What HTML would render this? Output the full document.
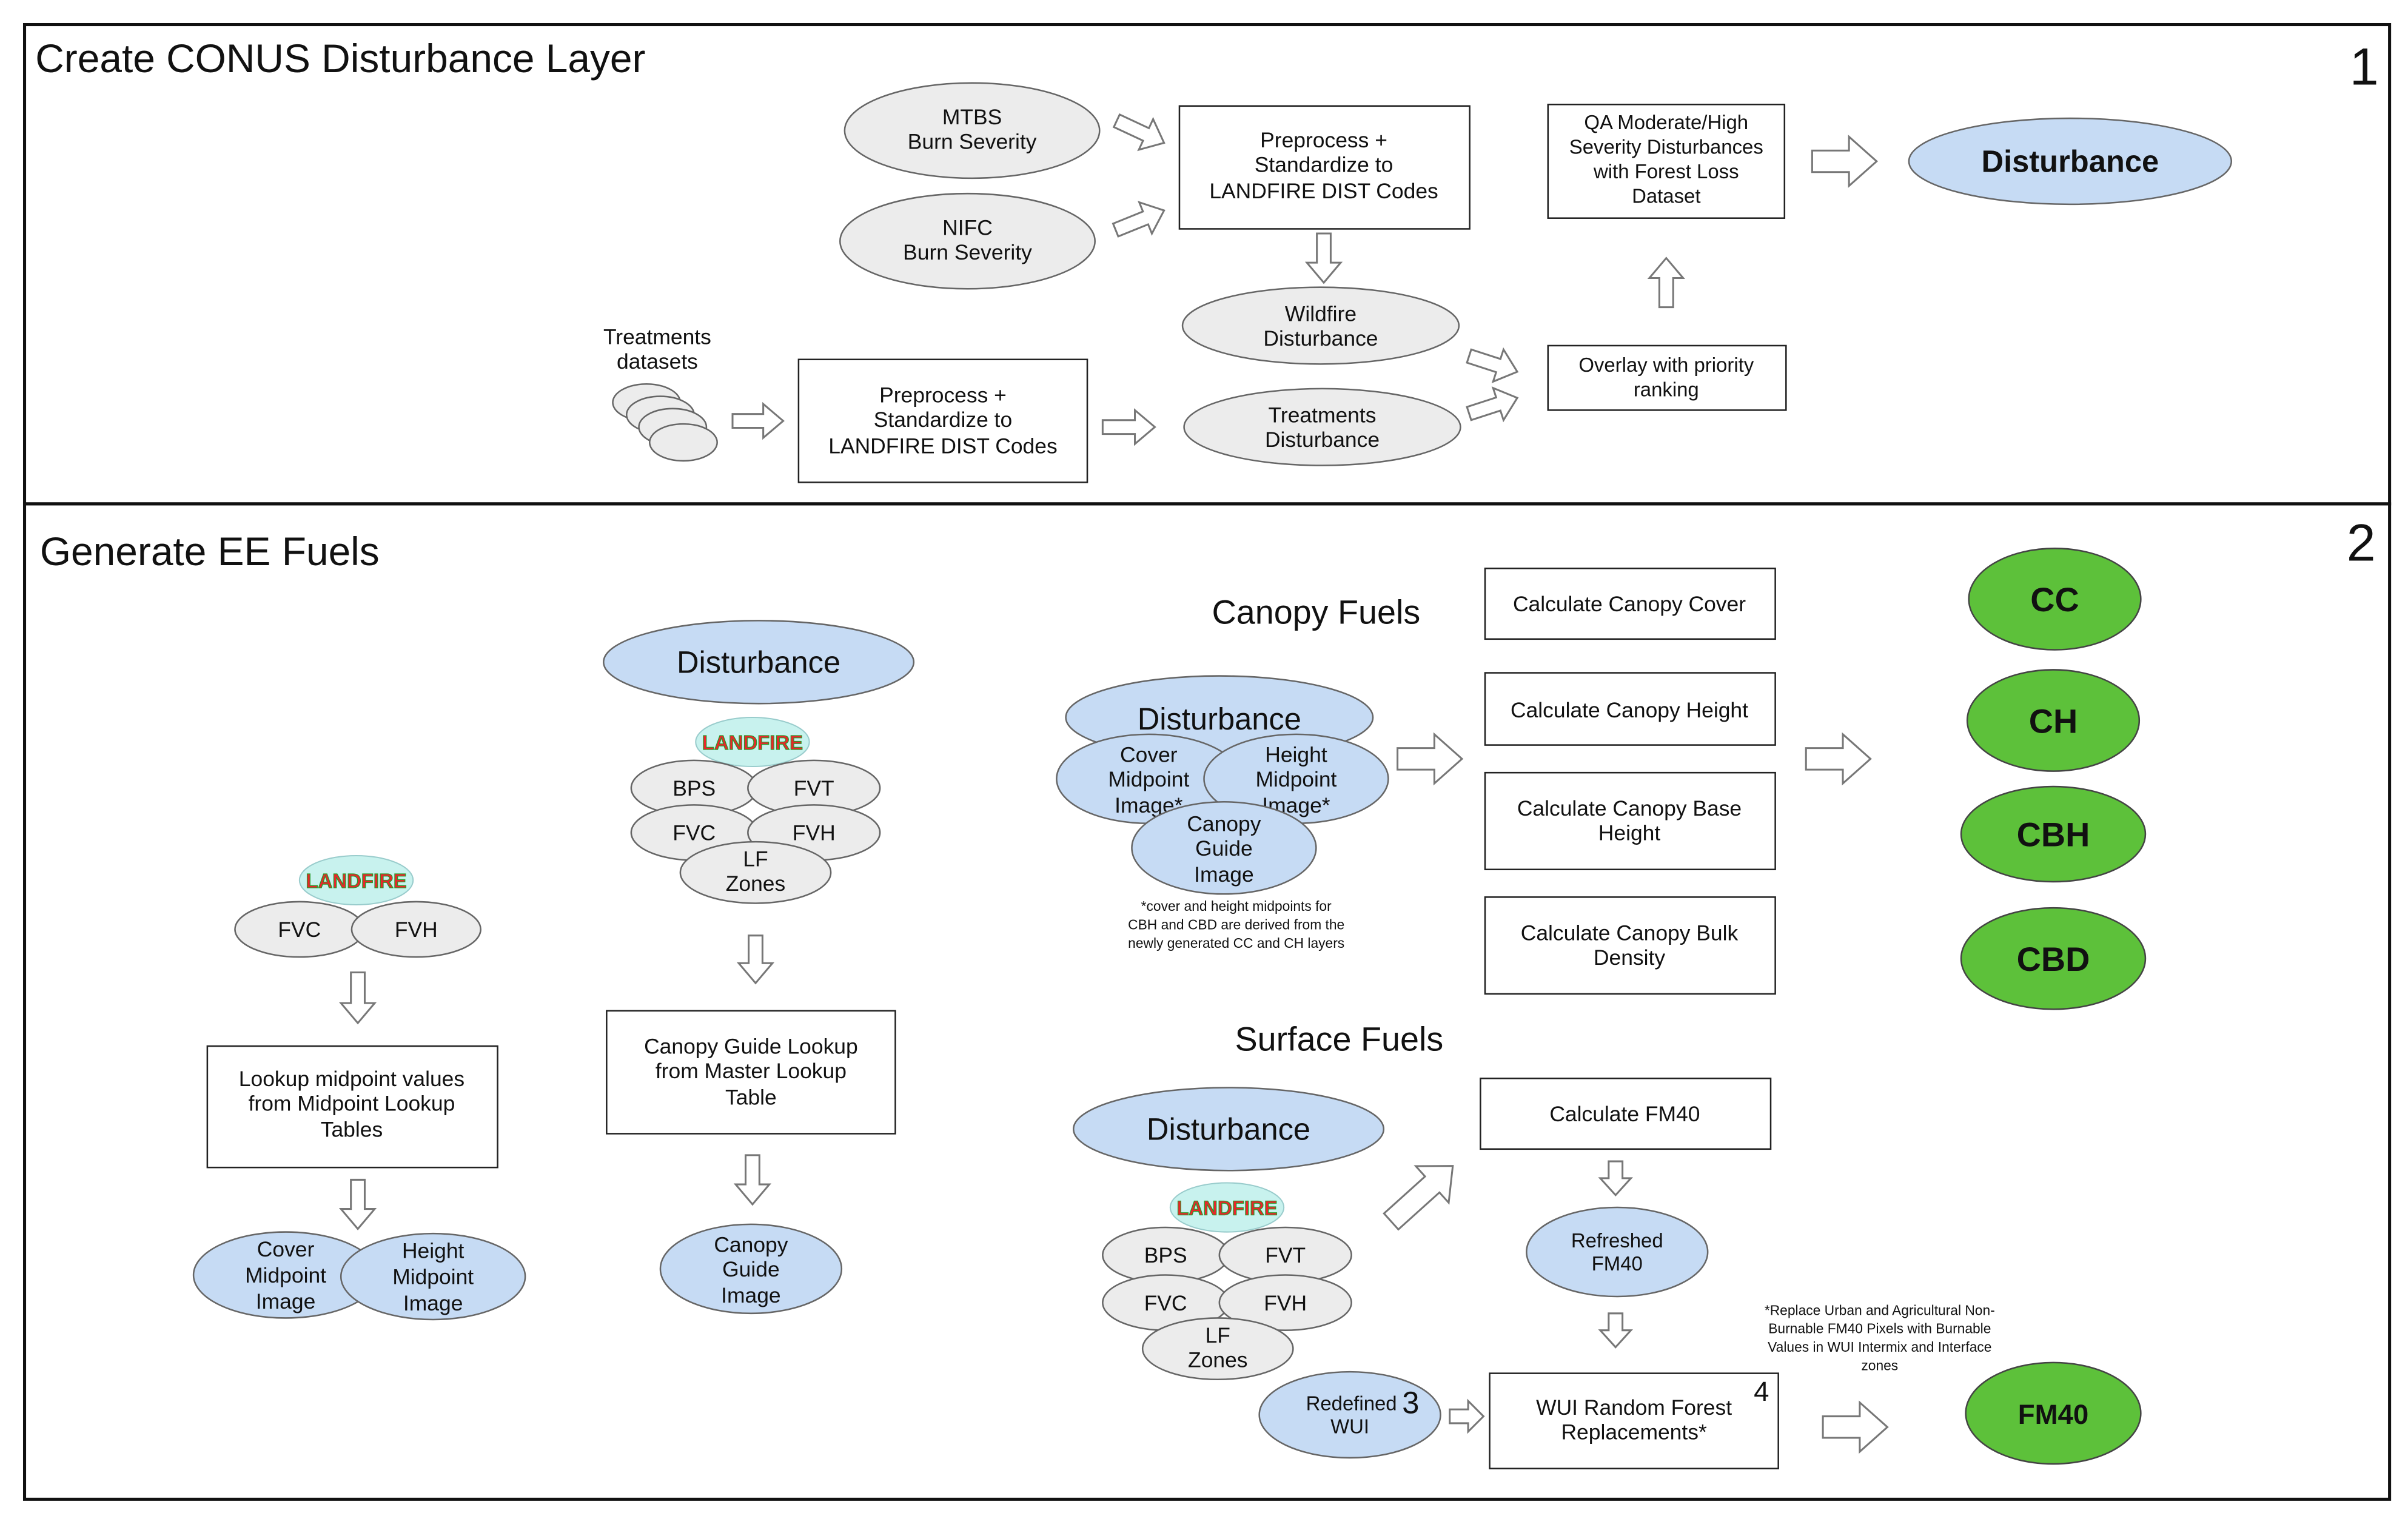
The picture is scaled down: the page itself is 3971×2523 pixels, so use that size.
<!DOCTYPE html>
<html><head><meta charset="utf-8"><style>html,body{margin:0;padding:0;background:#fff}svg{display:block}text{font-family:"Liberation Sans",Arial,sans-serif;fill:#111}</style></head><body>
<svg width="3971" height="2523" viewBox="0 0 1568 996" preserveAspectRatio="none" xmlns="http://www.w3.org/2000/svg">
<defs>
<polygon id="ar" points="0,-4.5 -13,-4.5 -13,-11 0,0 -13,11 -13,4.5 0,4.5" />
<g id="lf"><ellipse cx="0" cy="0" rx="37" ry="16" fill="#c8f2ee" stroke="#9cc" stroke-width="0.8"/><text x="0" y="5" text-anchor="middle" font-size="13" font-weight="bold" style="fill:#e8262a;stroke:#2a9a2a;stroke-width:0.5">LANDFIRE</text></g>
</defs>
<style>
.g{fill:#ececec;stroke:#666;stroke-width:1}
.b{fill:#c6dbf4;stroke:#666;stroke-width:1}
.gr{fill:#5dc13a;stroke:#444;stroke-width:1}
.bx{fill:#fff;stroke:#222;stroke-width:1}
.a{fill:#fff;stroke:#777;stroke-width:1.2}
.t{font-size:14px}
.s{font-size:9px}
</style>
<rect x="16" y="16" width="1540" height="312" fill="none" stroke="#111" stroke-width="2"/>
<rect x="16" y="328" width="1540" height="648" fill="none" stroke="#111" stroke-width="2"/>
<text x="23" y="47" font-size="26">Create CONUS Disturbance Layer</text>
<text x="1530" y="55" font-size="34">1</text>
<text x="26" y="368" font-size="26">Generate EE Fuels</text>
<text x="1528" y="365" font-size="34">2</text>

<!-- arrows helper: path from (x1,y1) to (x2,y2) -->
<!-- section 1 -->
<ellipse class="g" cx="633" cy="85" rx="83" ry="31"/><text class="t" text-anchor="middle" x="633" y="81">MTBS</text><text class="t" text-anchor="middle" x="633" y="97">Burn Severity</text>
<ellipse class="g" cx="630" cy="157" rx="83" ry="31"/><text class="t" text-anchor="middle" x="630" y="153">NIFC</text><text class="t" text-anchor="middle" x="630" y="169">Burn Severity</text>
<g transform="translate(758,93) rotate(25)"><polygon class="a" points="-34,-4.5 -13,-4.5 -13,-11 0,0 -13,11 -13,4.5 -34,4.5"/></g>
<g transform="translate(758,137) rotate(-22)"><polygon class="a" points="-34,-4.5 -13,-4.5 -13,-11 0,0 -13,11 -13,4.5 -34,4.5"/></g>
<rect class="bx" x="768" y="69" width="189" height="80"/><text class="t" text-anchor="middle" x="862" y="96">Preprocess +</text><text class="t" text-anchor="middle" x="862" y="112">Standardize to</text><text class="t" text-anchor="middle" x="862" y="129">LANDFIRE DIST Codes</text>
<rect class="bx" x="1008" y="68" width="154" height="74"/>
<text font-size="13" text-anchor="middle" x="1085" y="84">QA Moderate/High</text><text font-size="13" text-anchor="middle" x="1085" y="100">Severity Disturbances</text><text font-size="13" text-anchor="middle" x="1085" y="116">with Forest Loss</text><text font-size="13" text-anchor="middle" x="1085" y="132">Dataset</text>
<g transform="translate(1222,105)"><polygon class="a" points="-42,-7 -18,-7 -18,-16 0,0 -18,16 -18,7 -42,7"/></g>
<ellipse class="b" cx="1348" cy="105" rx="105" ry="28"/><text font-size="20" font-weight="bold" text-anchor="middle" x="1348" y="112">Disturbance</text>
<g transform="translate(862,184) rotate(90)"><polygon class="a" points="-32,-4.5 -13,-4.5 -13,-11 0,0 -13,11 -13,4.5 -32,4.5"/></g>
<ellipse class="g" cx="860" cy="212" rx="90" ry="25"/><text class="t" text-anchor="middle" x="860" y="209">Wildfire</text><text class="t" text-anchor="middle" x="860" y="225">Disturbance</text>
<ellipse class="g" cx="861" cy="278" rx="90" ry="25"/><text class="t" text-anchor="middle" x="861" y="275">Treatments</text><text class="t" text-anchor="middle" x="861" y="291">Disturbance</text>
<rect class="bx" x="1008" y="225" width="155" height="42"/><text font-size="13" text-anchor="middle" x="1085" y="242">Overlay  with  priority</text><text font-size="13" text-anchor="middle" x="1085" y="258">ranking</text>
<g transform="translate(1085,168) rotate(-90)"><polygon class="a" points="-32,-4.5 -13,-4.5 -13,-11 0,0 -13,11 -13,4.5 -32,4.5"/></g>
<g transform="translate(988,242) rotate(18)"><polygon class="a" points="-33,-4.5 -13,-4.5 -13,-11 0,0 -13,11 -13,4.5 -33,4.5"/></g>
<g transform="translate(988,259) rotate(-18)"><polygon class="a" points="-33,-4.5 -13,-4.5 -13,-11 0,0 -13,11 -13,4.5 -33,4.5"/></g>
<text class="t" text-anchor="middle" x="428" y="224">Treatments</text><text class="t" text-anchor="middle" x="428" y="240">datasets</text>
<ellipse class="g" cx="421" cy="262" rx="22" ry="12"/><ellipse class="g" cx="430" cy="270" rx="22" ry="12"/><ellipse class="g" cx="438" cy="278" rx="22" ry="12"/><ellipse class="g" cx="445" cy="288" rx="22" ry="12"/>
<g transform="translate(510,274)"><polygon class="a" points="-33,-4.5 -13,-4.5 -13,-11 0,0 -13,11 -13,4.5 -33,4.5"/></g>
<rect class="bx" x="520" y="234" width="188" height="80"/><text class="t" text-anchor="middle" x="614" y="262">Preprocess +</text><text class="t" text-anchor="middle" x="614" y="278">Standardize to</text><text class="t" text-anchor="middle" x="614" y="295">LANDFIRE DIST Codes</text>
<g transform="translate(752,278)"><polygon class="a" points="-34,-4.5 -13,-4.5 -13,-11 0,0 -13,11 -13,4.5 -34,4.5"/></g>

<!-- section 2 left -->
<use href="#lf" x="232" y="573"/>
<ellipse class="g" cx="195" cy="605" rx="42" ry="18"/><text class="t" text-anchor="middle" x="195" y="610">FVC</text>
<ellipse class="g" cx="271" cy="605" rx="42" ry="18"/><text class="t" text-anchor="middle" x="271" y="610">FVH</text>
<g transform="translate(233,666) rotate(90)"><polygon class="a" points="-33,-4.5 -13,-4.5 -13,-11 0,0 -13,11 -13,4.5 -33,4.5"/></g>
<rect class="bx" x="135" y="681" width="189" height="79"/><text class="t" text-anchor="middle" x="229" y="707">Lookup midpoint values</text><text class="t" text-anchor="middle" x="229" y="723">from Midpoint Lookup</text><text class="t" text-anchor="middle" x="229" y="740">Tables</text>
<g transform="translate(233,800) rotate(90)"><polygon class="a" points="-32,-4.5 -13,-4.5 -13,-11 0,0 -13,11 -13,4.5 -32,4.5"/></g>
<ellipse class="b" cx="186" cy="830" rx="60" ry="28"/><text class="t" text-anchor="middle" x="186" y="818">Cover</text><text class="t" text-anchor="middle" x="186" y="835">Midpoint</text><text class="t" text-anchor="middle" x="186" y="852">Image</text>
<ellipse class="b" cx="282" cy="831" rx="60" ry="28"/><text class="t" text-anchor="middle" x="282" y="819">Height</text><text class="t" text-anchor="middle" x="282" y="836">Midpoint</text><text class="t" text-anchor="middle" x="282" y="853">Image</text>

<!-- middle -->
<ellipse class="b" cx="494" cy="431" rx="101" ry="27"/><text font-size="20" text-anchor="middle" x="494" y="438">Disturbance</text>
<use href="#lf" x="490" y="483"/>
<ellipse class="g" cx="452" cy="513" rx="41" ry="18"/><text class="t" text-anchor="middle" x="452" y="518">BPS</text>
<ellipse class="g" cx="530" cy="513" rx="43" ry="18"/><text class="t" text-anchor="middle" x="530" y="518">FVT</text>
<ellipse class="g" cx="452" cy="542" rx="41" ry="18"/><text class="t" text-anchor="middle" x="452" y="547">FVC</text>
<ellipse class="g" cx="530" cy="542" rx="43" ry="18"/><text class="t" text-anchor="middle" x="530" y="547">FVH</text>
<ellipse class="g" cx="492" cy="568" rx="49" ry="20"/><text class="t" text-anchor="middle" x="492" y="564">LF</text><text class="t" text-anchor="middle" x="492" y="580">Zones</text>
<g transform="translate(492,640) rotate(90)"><polygon class="a" points="-31,-4.5 -13,-4.5 -13,-11 0,0 -13,11 -13,4.5 -31,4.5"/></g>
<rect class="bx" x="395" y="658" width="188" height="80"/><text class="t" text-anchor="middle" x="489" y="686">Canopy Guide Lookup</text><text class="t" text-anchor="middle" x="489" y="702">from Master Lookup</text><text class="t" text-anchor="middle" x="489" y="719">Table</text>
<g transform="translate(490,784) rotate(90)"><polygon class="a" points="-32,-4.5 -13,-4.5 -13,-11 0,0 -13,11 -13,4.5 -32,4.5"/></g>
<ellipse class="b" cx="489" cy="826" rx="59" ry="29"/><text class="t" text-anchor="middle" x="489" y="815">Canopy</text><text class="t" text-anchor="middle" x="489" y="831">Guide</text><text class="t" text-anchor="middle" x="489" y="848">Image</text>

<!-- canopy fuels -->
<text font-size="22" text-anchor="middle" x="857" y="406">Canopy Fuels</text>
<ellipse class="b" cx="794" cy="467" rx="100" ry="27"/><text font-size="20" text-anchor="middle" x="794" y="475">Disturbance</text>
<ellipse class="b" cx="748" cy="507" rx="60" ry="29"/><text class="t" text-anchor="middle" x="748" y="496">Cover</text><text class="t" text-anchor="middle" x="748" y="512">Midpoint</text><text class="t" text-anchor="middle" x="748" y="529">Image*</text>
<ellipse class="b" cx="844" cy="507" rx="60" ry="29"/><text class="t" text-anchor="middle" x="844" y="496">Height</text><text class="t" text-anchor="middle" x="844" y="512">Midpoint</text><text class="t" text-anchor="middle" x="844" y="529">Image*</text>
<ellipse class="b" cx="797" cy="552" rx="60" ry="30"/><text class="t" text-anchor="middle" x="797" y="541">Canopy</text><text class="t" text-anchor="middle" x="797" y="557">Guide</text><text class="t" text-anchor="middle" x="797" y="574">Image</text>
<text class="s" text-anchor="middle" x="805" y="593">*cover and height midpoints for</text><text class="s" text-anchor="middle" x="805" y="605">CBH and CBD are derived from the</text><text class="s" text-anchor="middle" x="805" y="617">newly generated CC and CH layers</text>
<g transform="translate(952,494)"><polygon class="a" points="-42,-7 -18,-7 -18,-16 0,0 -18,16 -18,7 -42,7"/></g>
<rect class="bx" x="967" y="370" width="189" height="46"/><text class="t" text-anchor="middle" x="1061" y="398">Calculate Canopy Cover</text>
<rect class="bx" x="967" y="438" width="189" height="47"/><text class="t" text-anchor="middle" x="1061" y="467">Calculate Canopy Height</text>
<rect class="bx" x="967" y="503" width="189" height="63"/><text class="t" text-anchor="middle" x="1061" y="531">Calculate Canopy Base</text><text class="t" text-anchor="middle" x="1061" y="547">Height</text>
<rect class="bx" x="967" y="584" width="189" height="63"/><text class="t" text-anchor="middle" x="1061" y="612">Calculate Canopy Bulk</text><text class="t" text-anchor="middle" x="1061" y="628">Density</text>
<g transform="translate(1218,494)"><polygon class="a" points="-42,-7 -18,-7 -18,-16 0,0 -18,16 -18,7 -42,7"/></g>
<ellipse class="gr" cx="1338" cy="390" rx="56" ry="33"/><text font-size="22" font-weight="bold" text-anchor="middle" x="1338" y="398">CC</text>
<ellipse class="gr" cx="1337" cy="469" rx="56" ry="33"/><text font-size="22" font-weight="bold" text-anchor="middle" x="1337" y="477">CH</text>
<ellipse class="gr" cx="1337" cy="543" rx="60" ry="31"/><text font-size="22" font-weight="bold" text-anchor="middle" x="1337" y="551">CBH</text>
<ellipse class="gr" cx="1337" cy="624" rx="60" ry="33"/><text font-size="22" font-weight="bold" text-anchor="middle" x="1337" y="632">CBD</text>

<!-- surface fuels -->
<text font-size="22" text-anchor="middle" x="872" y="684">Surface Fuels</text>
<ellipse class="b" cx="800" cy="735" rx="101" ry="27"/><text font-size="20" text-anchor="middle" x="800" y="742">Disturbance</text>
<use href="#lf" x="799" y="786"/>
<ellipse class="g" cx="759" cy="817" rx="41" ry="18"/><text class="t" text-anchor="middle" x="759" y="822">BPS</text>
<ellipse class="g" cx="837" cy="817" rx="43" ry="18"/><text class="t" text-anchor="middle" x="837" y="822">FVT</text>
<ellipse class="g" cx="759" cy="848" rx="41" ry="18"/><text class="t" text-anchor="middle" x="759" y="853">FVC</text>
<ellipse class="g" cx="837" cy="848" rx="43" ry="18"/><text class="t" text-anchor="middle" x="837" y="853">FVH</text>
<ellipse class="g" cx="793" cy="878" rx="49" ry="20"/><text class="t" text-anchor="middle" x="793" y="874">LF</text><text class="t" text-anchor="middle" x="793" y="890">Zones</text>
<g transform="translate(946,759) rotate(-42)"><polygon class="a" points="-54,-7 -18,-7 -18,-16 0,0 -18,16 -18,7 -54,7"/></g>
<rect class="bx" x="964" y="702" width="189" height="46"/><text class="t" text-anchor="middle" x="1058" y="730">Calculate FM40</text>
<g transform="translate(1052,778) rotate(90)"><polygon class="a" points="-22,-4.5 -11,-4.5 -11,-10 0,0 -11,10 -11,4.5 -22,4.5"/></g>
<ellipse class="b" cx="1053" cy="815" rx="59" ry="29"/><text font-size="13" text-anchor="middle" x="1053" y="812">Refreshed</text><text font-size="13" text-anchor="middle" x="1053" y="827">FM40</text>
<g transform="translate(1052,877) rotate(90)"><polygon class="a" points="-22,-4.5 -11,-4.5 -11,-10 0,0 -11,10 -11,4.5 -22,4.5"/></g>
<rect class="bx" x="970" y="894" width="188" height="62"/><text class="t" text-anchor="middle" x="1064" y="921">WUI  Random Forest</text><text class="t" text-anchor="middle" x="1064" y="937">Replacements*</text>
<text font-size="18" x="1142" y="912">4</text>
<ellipse class="b" cx="879" cy="921" rx="59" ry="28"/><text font-size="13" text-anchor="middle" x="880" y="918">Redefined</text><text font-size="13" text-anchor="middle" x="879" y="933">WUI</text>
<text font-size="20" x="913" y="920">3</text>
<g transform="translate(966,922)"><polygon class="a" points="-22,-4.5 -10,-4.5 -10,-10 0,0 -10,10 -10,4.5 -22,4.5"/></g>
<text class="s" text-anchor="middle" x="1224" y="856">*Replace Urban and Agricultural Non-</text><text class="s" text-anchor="middle" x="1224" y="868">Burnable FM40 Pixels with Burnable</text><text class="s" text-anchor="middle" x="1224" y="880">Values in WUI Intermix and Interface</text><text class="s" text-anchor="middle" x="1224" y="892">zones</text>
<g transform="translate(1229,929)"><polygon class="a" points="-42,-7 -18,-7 -18,-16 0,0 -18,16 -18,7 -42,7"/></g>
<ellipse class="gr" cx="1337" cy="920" rx="57" ry="33"/><text font-size="18" font-weight="bold" text-anchor="middle" x="1337" y="927">FM40</text>
</svg>
</body></html>
